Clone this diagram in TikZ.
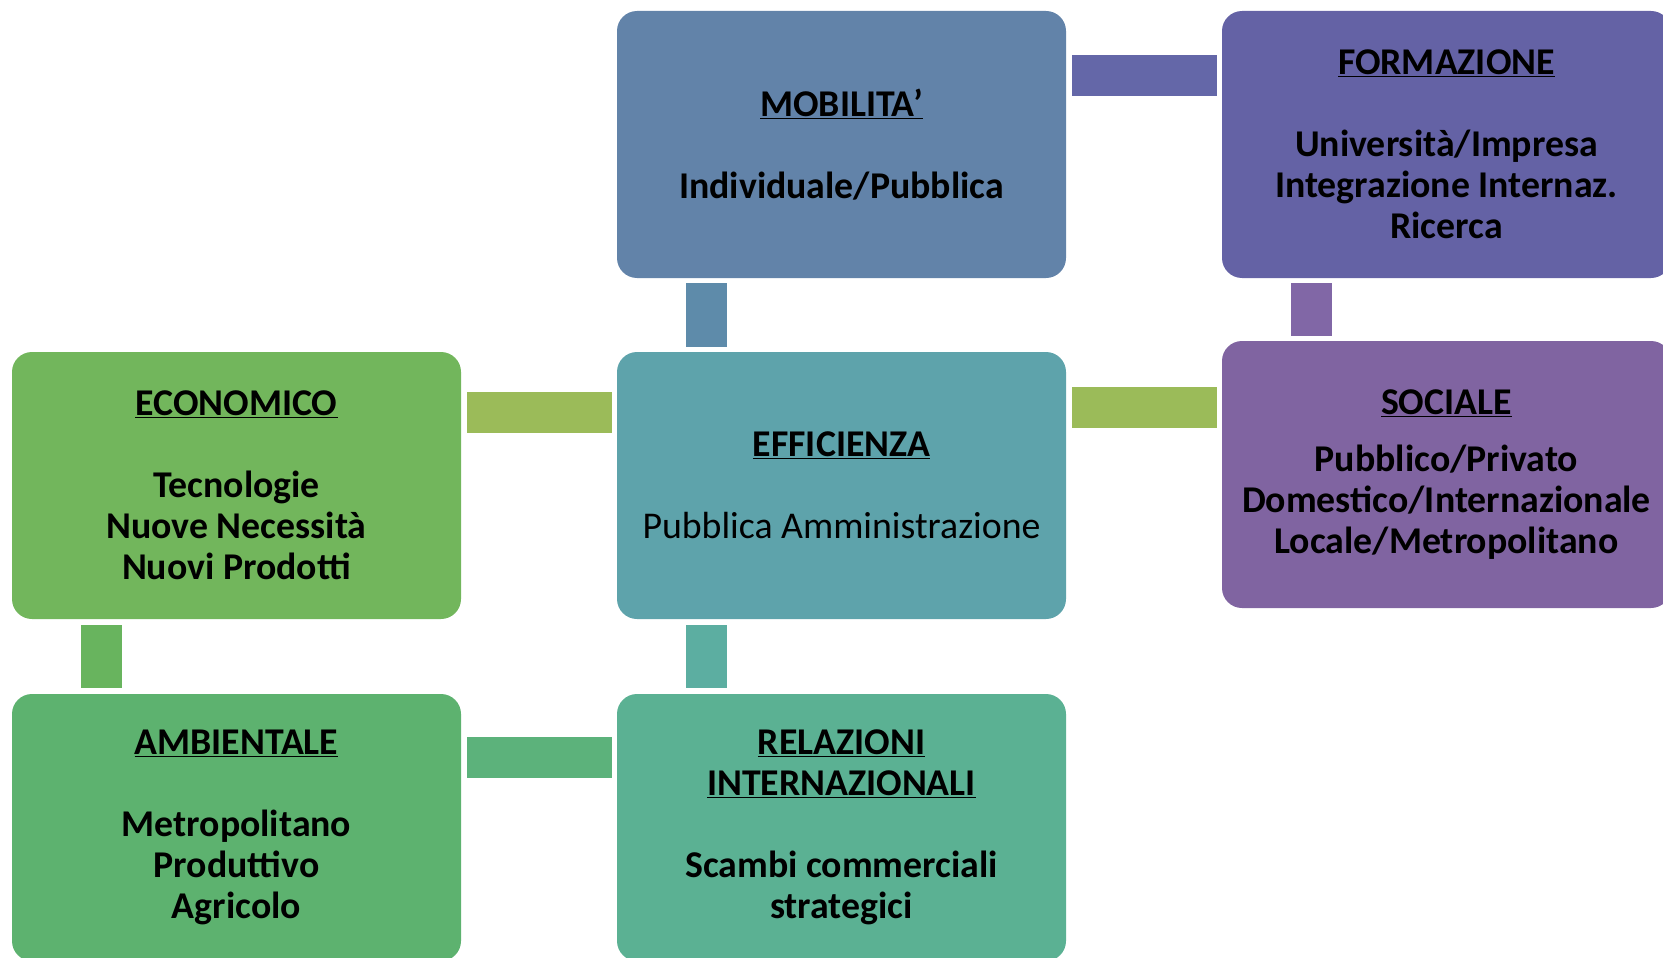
\documentclass[tikz,border=0pt]{standalone}
\usepackage{fontspec}
\setmainfont{Carlito}
\usetikzlibrary{calc}
\definecolor{cMob}{HTML}{6283A9}
\definecolor{cForm}{HTML}{6462A5}
\definecolor{cEco}{HTML}{72B65C}
\definecolor{cEff}{HTML}{5EA3AB}
\definecolor{cSoc}{HTML}{8064A1}
\definecolor{cAmb}{HTML}{5DB26F}
\definecolor{cRel}{HTML}{5BB193}
\definecolor{kMobForm}{HTML}{6467A8}
\definecolor{kMobEff}{HTML}{5E8BAA}
\definecolor{kFormSoc}{HTML}{8167A6}
\definecolor{kGreen}{HTML}{9BBB59}
\definecolor{kEcoAmb}{HTML}{68B45E}
\definecolor{kEffRel}{HTML}{5CAEA1}
\definecolor{kAmbRel}{HTML}{5CB27B}
\tikzset{
  box/.style={rectangle, rounded corners=20pt, minimum width=449pt, minimum height=267pt,
    inner sep=0pt, outer sep=0pt, align=center,
    font=\fontsize{37.8}{41}\selectfont\bfseries},
  bar/.style={line width=41pt, line cap=butt},
}
\begin{document}
\begin{tikzpicture}[x=1pt,y=-1pt]
\useasboundingbox (0,0) rectangle (1663,958);
\node[box, fill=cMob] (mob) at (841.5,144.5) {\underline{MOBILITA’}\\[41pt]Individuale/Pubblica};
\node[box, fill=cForm] (form) at (1446.5,144.5) {\underline{FORMAZIONE}\\[41pt]Università/Impresa\\Integrazione Internaz.\\Ricerca};
\node[box, fill=cEco] (eco) at (236.5,485.5) {\underline{ECONOMICO}\\[41pt]Tecnologie\\Nuove Necessità\\Nuovi Prodotti};
\node[box, fill=cEff] (eff) at (841.5,485.5) {\underline{EFFICIENZA}\\[41pt]\mdseries Pubblica Amministrazione};
\node[box, fill=cSoc] (soc) at (1446.5,474.5) {\underline{SOCIALE}\\[16pt]Pubblico/Privato\\Domestico/Internazionale\\Locale/Metropolitano};
\node[box, fill=cAmb] (amb) at (236.5,827.5) {\underline{AMBIENTALE}\\[41pt]Metropolitano\\Produttivo\\Agricolo};
\node[box, fill=cRel] (rel) at (841.5,827.5) {\underline{RELAZIONI}\\\underline{INTERNAZIONALI}\\[41pt]Scambi commerciali\\strategici};
% connectors
\draw[bar, kMobForm] ($(mob.north east)+(6,64.5)$) -- ($(form.north west)+(-5,64.5)$);
\draw[bar, kMobEff] ($(mob.south west)+(89.5,5)$) -- ($(eff.north west)+(89.5,-5)$);
\draw[bar, kFormSoc] ($(form.south west)+(89.5,5)$) -- ($(soc.north west)+(89.5,-5)$);
\draw[bar, kGreen] ($(eff.north east)+(6,55.5)$) -- ($(soc.north west)+(-5,66.5)$);
\draw[bar, kGreen] ($(eco.north east)+(6,60)$) -- ($(eff.north west)+(-5,60)$);
\draw[bar, kEcoAmb] ($(eco.south west)+(89.5,6)$) -- ($(amb.north west)+(89.5,-6)$);
\draw[bar, kEffRel] ($(eff.south west)+(89.5,6)$) -- ($(rel.north west)+(89.5,-6)$);
\draw[bar, kAmbRel] ($(amb.north east)+(6,63)$) -- ($(rel.north west)+(-5,63)$);
\end{tikzpicture}
\end{document}
